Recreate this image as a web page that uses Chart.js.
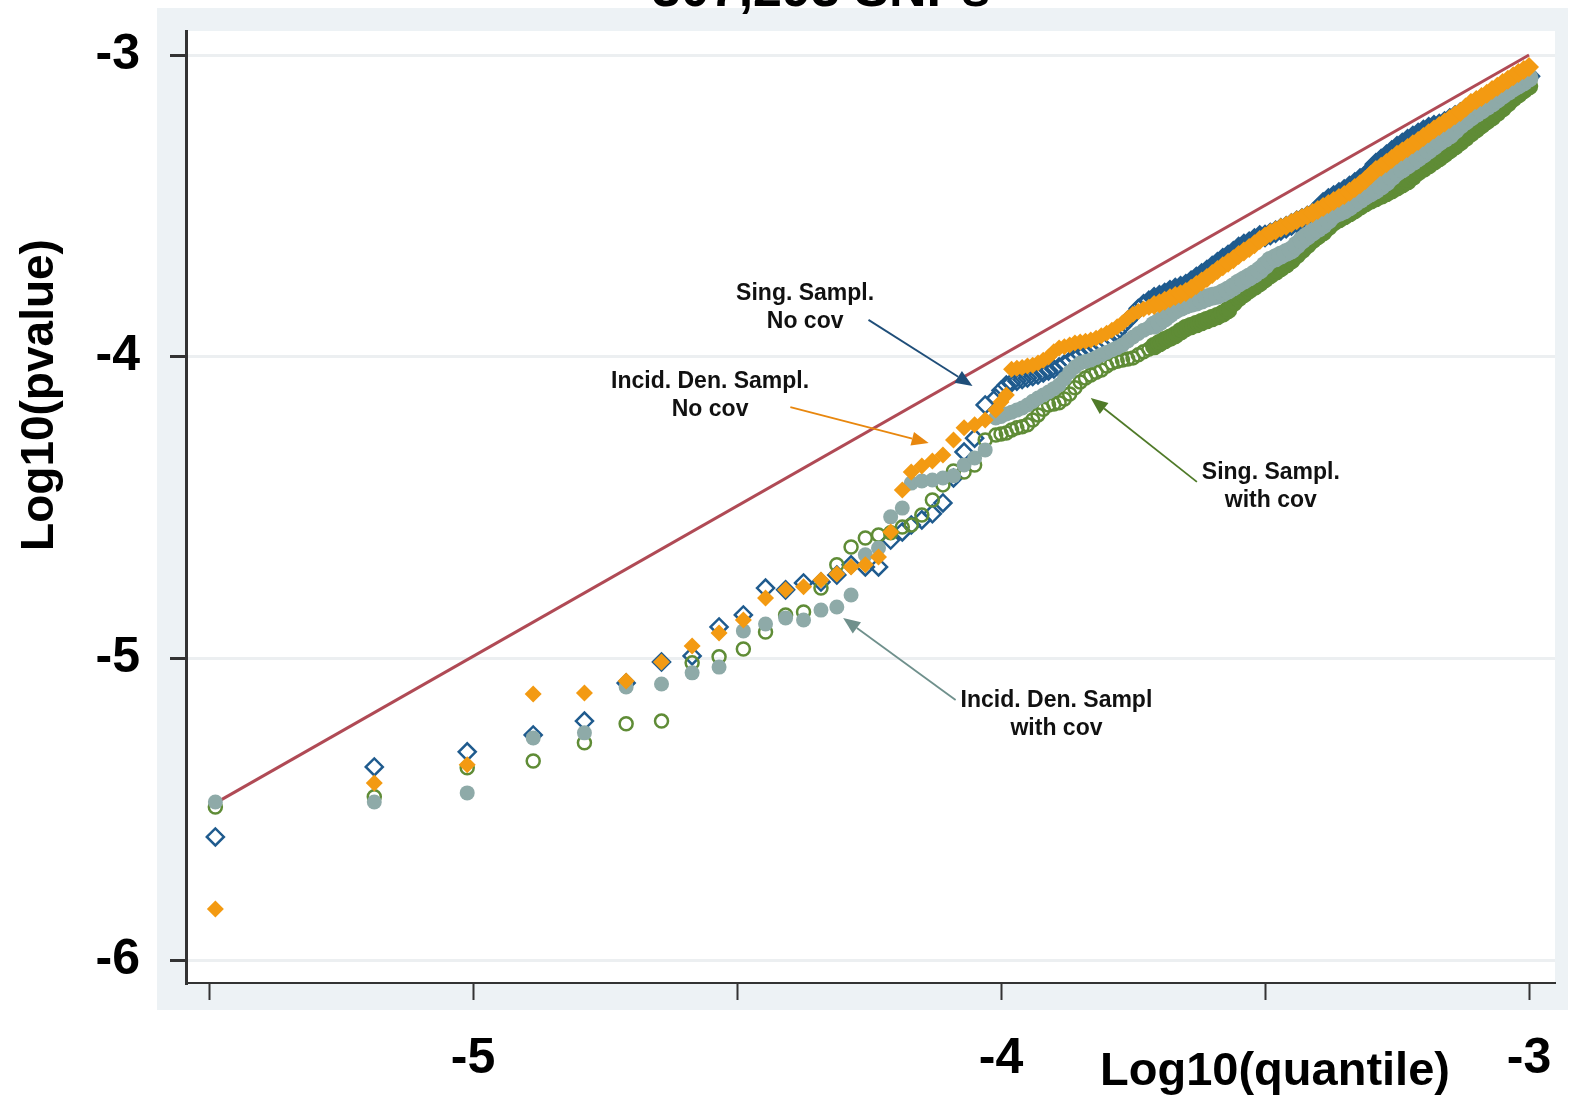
<!DOCTYPE html>
<html>
<head>
<meta charset="utf-8">
<script src="https://cdn.jsdelivr.net/npm/chart.js@4.4.1/dist/chart.umd.min.js"></script>
<style>
  html, body { margin: 0; padding: 0; background: #ffffff; }
  #wrap { width: 1571px; height: 1099px; }
</style>
</head>
<body>
<div id="wrap"><canvas id="qq" width="1571" height="1099"></canvas></div>
<script>
// Log10 des quantiles attendus (axe x), partagé par les 4 séries
const logQuantile = [
  -5.488, -5.187, -5.011, -4.886, -4.789, -4.710, -4.643, -4.585, -4.534, -4.488,
  -4.446, -4.408, -4.374, -4.341, -4.311, -4.284, -4.257, -4.232, -4.209, -4.187,
  -4.17, -4.15, -4.13, -4.11, -4.09, -4.07, -4.05, -4.03, -4.01,
  -4.00, -3.99, -3.98, -3.97, -3.96, -3.95, -3.94, -3.93, -3.92, -3.91,
  -3.90, -3.89, -3.88, -3.87, -3.86, -3.85, -3.84, -3.83, -3.82, -3.81,
  -3.80, -3.79, -3.78, -3.77, -3.76, -3.75, -3.74, -3.73, -3.72, -3.71,
  -3.70, -3.69, -3.68, -3.67, -3.66, -3.65, -3.64, -3.63, -3.62, -3.61,
  -3.60, -3.59, -3.58, -3.57, -3.56, -3.55, -3.54, -3.53, -3.52, -3.51,
  -3.50, -3.49, -3.48, -3.47, -3.46, -3.45, -3.44, -3.43, -3.42, -3.41,
  -3.40, -3.39, -3.38, -3.37, -3.36, -3.35, -3.34, -3.33, -3.32, -3.31,
  -3.30, -3.29, -3.28, -3.27, -3.26, -3.25, -3.24, -3.23, -3.22, -3.21,
  -3.20, -3.19, -3.18, -3.17, -3.16, -3.15, -3.14, -3.13, -3.12, -3.11,
  -3.10, -3.09, -3.08, -3.07, -3.06, -3.05, -3.04, -3.03, -3.02, -3.01,
  -3.00
];

// Sing. Sampl. No cov (losanges creux bleus)
const singNoCov = [
  -5.592, -5.360, -5.310, -5.254, -5.208, -5.082, -5.012, -4.992, -4.896, -4.856,
  -4.767, -4.773, -4.750, -4.747, -4.724, -4.690, -4.697, -4.697, -4.608, -4.581,
  -4.558, -4.541, -4.521, -4.485, -4.402, -4.316, -4.270, -4.160, -4.137,
  -4.112, -4.094, -4.086, -4.081, -4.076, -4.071, -4.066, -4.061, -4.054, -4.047,
  -4.041, -4.034, -4.024, -4.014, -4.004, -3.994, -3.986, -3.978, -3.970, -3.961,
  -3.950, -3.938, -3.918, -3.898, -3.880, -3.862, -3.840, -3.825, -3.813, -3.806,
  -3.800, -3.792, -3.783, -3.776, -3.770, -3.763, -3.752, -3.739, -3.728, -3.716,
  -3.703, -3.690, -3.677, -3.666, -3.654, -3.640, -3.630, -3.622, -3.612, -3.602,
  -3.600, -3.593, -3.586, -3.578, -3.571, -3.562, -3.553, -3.545, -3.537, -3.528,
  -3.512, -3.492, -3.479, -3.469, -3.459, -3.449, -3.438, -3.426, -3.413, -3.401,
  -3.385, -3.362, -3.348, -3.334, -3.320, -3.306, -3.295, -3.283, -3.272, -3.262,
  -3.252, -3.243, -3.236, -3.232, -3.224, -3.214, -3.204, -3.194, -3.181, -3.167,
  -3.158, -3.149, -3.139, -3.128, -3.118, -3.107, -3.097, -3.088, -3.080, -3.074,
  -3.070
];

// Incid. Den. Sampl. No cov (losanges pleins orange)
const incidNoCov = [
  -5.831, -5.413, -5.353, -5.118, -5.115, -5.075, -5.012, -4.959, -4.916, -4.873,
  -4.800, -4.773, -4.763, -4.740, -4.720, -4.697, -4.690, -4.664, -4.581, -4.442,
  -4.382, -4.362, -4.346, -4.326, -4.276, -4.236, -4.226, -4.210, -4.177,
  -4.150, -4.127, -4.042, -4.038, -4.036, -4.031, -4.028, -4.021, -4.012, -4.001,
  -3.984, -3.971, -3.967, -3.961, -3.955, -3.951, -3.949, -3.945, -3.939, -3.931,
  -3.922, -3.912, -3.901, -3.888, -3.873, -3.859, -3.850, -3.842, -3.836, -3.829,
  -3.823, -3.815, -3.806, -3.799, -3.793, -3.786, -3.775, -3.762, -3.751, -3.739,
  -3.726, -3.713, -3.700, -3.689, -3.677, -3.663, -3.651, -3.640, -3.627, -3.613,
  -3.602, -3.590, -3.582, -3.573, -3.566, -3.557, -3.548, -3.540, -3.532, -3.524,
  -3.514, -3.504, -3.494, -3.484, -3.474, -3.464, -3.453, -3.441, -3.428, -3.414,
  -3.398, -3.381, -3.370, -3.358, -3.345, -3.331, -3.320, -3.308, -3.296, -3.285,
  -3.272, -3.259, -3.247, -3.235, -3.224, -3.212, -3.200, -3.189, -3.174, -3.159,
  -3.149, -3.139, -3.128, -3.116, -3.105, -3.093, -3.082, -3.070, -3.060, -3.050,
  -3.040
];

// Sing. Sampl. with cov (cercles creux verts)
const singCov = [
  -5.493, -5.459, -5.363, -5.340, -5.280, -5.217, -5.208, -5.015, -4.995, -4.969,
  -4.913, -4.856, -4.846, -4.767, -4.690, -4.631, -4.601, -4.591, -4.584, -4.565,
  -4.558, -4.525, -4.475, -4.425, -4.379, -4.382, -4.359, -4.276, -4.260,
  -4.256, -4.253, -4.243, -4.236, -4.232, -4.226, -4.210, -4.193, -4.174, -4.160,
  -4.157, -4.153, -4.140, -4.124, -4.103, -4.084, -4.071, -4.061, -4.052, -4.044,
  -4.031, -4.021, -4.015, -4.011, -4.008, -4.004, -3.994, -3.984, -3.975, -3.965,
  -3.955, -3.945, -3.937, -3.928, -3.916, -3.905, -3.898, -3.892, -3.885, -3.878,
  -3.872, -3.865, -3.857, -3.845, -3.822, -3.805, -3.792, -3.779, -3.768, -3.756,
  -3.742, -3.729, -3.718, -3.706, -3.694, -3.680, -3.663, -3.646, -3.630, -3.613,
  -3.600, -3.587, -3.570, -3.554, -3.544, -3.534, -3.524, -3.514, -3.502, -3.491,
  -3.482, -3.474, -3.466, -3.457, -3.448, -3.438, -3.428, -3.418, -3.403, -3.388,
  -3.377, -3.365, -3.353, -3.341, -3.328, -3.315, -3.302, -3.288, -3.274, -3.259,
  -3.246, -3.232, -3.219, -3.206, -3.191, -3.176, -3.160, -3.143, -3.130, -3.116,
  -3.103
];

// Incid. Den. Sampl with cov (cercles pleins gris-vert)
const incidCov = [
  -5.476, -5.476, -5.446, -5.264, -5.247, -5.095, -5.085, -5.048, -5.029, -4.909,
  -4.886, -4.866, -4.873, -4.840, -4.830, -4.790, -4.657, -4.634, -4.531, -4.502,
  -4.419, -4.412, -4.409, -4.402, -4.395, -4.359, -4.336, -4.309, -4.203,
  -4.198, -4.190, -4.184, -4.177, -4.170, -4.160, -4.148, -4.137, -4.127, -4.117,
  -4.106, -4.094, -4.073, -4.051, -4.034, -4.021, -4.016, -4.011, -4.003, -3.994,
  -3.986, -3.978, -3.970, -3.961, -3.948, -3.935, -3.923, -3.912, -3.904, -3.895,
  -3.884, -3.872, -3.858, -3.845, -3.837, -3.829, -3.824, -3.819, -3.812, -3.805,
  -3.800, -3.796, -3.788, -3.779, -3.768, -3.756, -3.746, -3.736, -3.725, -3.713,
  -3.697, -3.680, -3.672, -3.663, -3.655, -3.646, -3.630, -3.613, -3.600, -3.587,
  -3.575, -3.563, -3.547, -3.530, -3.522, -3.514, -3.503, -3.491, -3.479, -3.467,
  -3.457, -3.447, -3.434, -3.421, -3.404, -3.388, -3.377, -3.365, -3.353, -3.341,
  -3.328, -3.315, -3.302, -3.288, -3.277, -3.265, -3.249, -3.232, -3.219, -3.206,
  -3.194, -3.182, -3.171, -3.159, -3.146, -3.133, -3.121, -3.109, -3.099, -3.089,
  -3.076
];

// Droite de référence (attendu = observé)
const refX = [-5.488, -3.0];
const refY = [-5.48, -3.0];

// Graduations
const xTickValues = [-5.5, -5, -4.5, -4, -3.5, -3];
const xTickLabels = ['', '-5', '', '-4', '', '-3'];
const yTickValues = [-6, -5, -4, -3];
const yTickLabels = ['-6', '-5', '-4', '-3'];

const chartTitle = '307,293 SNPs';
const xTitle = 'Log10(quantile)';
const yTitle = 'Log10(pvalue)';

// Annotations : texte + flèche (coordonnées en unités des axes)
const notes = [
  { lines: ['Sing. Sampl.', 'No cov'], at: [-4.371, -3.792], from: [-4.251, -3.878], to: [-4.054, -4.097], color: '#1f4e79' },
  { lines: ['Incid. Den. Sampl.', 'No cov'], at: [-4.551, -4.084], from: [-4.399, -4.167], to: [-4.137, -4.286], color: '#e8870e' },
  { lines: ['Sing. Sampl.', 'with cov'], at: [-3.489, -4.385], from: [-3.629, -4.415], to: [-3.830, -4.137], color: '#4f7a28' },
  { lines: ['Incid. Den. Sampl', 'with cov'], at: [-3.895, -5.141], from: [-4.086, -5.138], to: [-4.299, -4.866], color: '#6f908c' }
];

const FONT = "'Liberation Sans', Arial, Helvetica, sans-serif";
const DENSE_FROM = -3.72; // au-delà, les marqueurs se chevauchent en bande pleine

const toPoints = ys => logQuantile.map((x, i) => ({ x: x, y: ys[i] }));
const isDense = c => c.raw !== undefined && c.raw.x > DENSE_FROM;

function arrow(ctx, x0, y0, x1, y1, color) {
    const ang = Math.atan2(y1 - y0, x1 - x0);
    const len = 17, half = 7;
    const bx = x1 - Math.cos(ang) * len;
    const by = y1 - Math.sin(ang) * len;
    ctx.strokeStyle = color;
    ctx.fillStyle = color;
    ctx.lineWidth = 1.8;
    ctx.beginPath();
    ctx.moveTo(x0, y0);
    ctx.lineTo(bx, by);
    ctx.stroke();
    ctx.beginPath();
    ctx.moveTo(x1, y1);
    ctx.lineTo(bx + Math.sin(ang) * half, by - Math.cos(ang) * half);
    ctx.lineTo(bx - Math.sin(ang) * half, by + Math.cos(ang) * half);
    ctx.closePath();
    ctx.fill();
}

// Fond gris-bleu façon Stata + textes libres
const stataFrame = {
    id: 'stataFrame',
    beforeDraw(chart) {
        const { ctx, chartArea: a } = chart;
        ctx.save();
        ctx.fillStyle = '#ffffff';
        ctx.fillRect(0, 0, chart.width, chart.height);
        ctx.fillStyle = '#edf2f5';
        ctx.fillRect(a.left - 29, a.top - 23, (a.right + 13) - (a.left - 29), (a.bottom + 27) - (a.top - 23));
        ctx.fillStyle = '#ffffff';
        ctx.fillRect(a.left, a.top, a.right - a.left, a.bottom - a.top);
        ctx.restore();
    },
    afterDraw(chart) {
        const { ctx, scales: { x, y } } = chart;
        ctx.save();

        // titre (coupé en haut de l'image)
        ctx.fillStyle = '#000000';
        ctx.font = 'bold 52px ' + FONT;
        ctx.textAlign = 'center';
        ctx.textBaseline = 'alphabetic';
        ctx.fillText(chartTitle, 821, 6);

        // titre de l'axe x
        ctx.font = 'bold 47px ' + FONT;
        ctx.fillText(xTitle, 1275, 1085);

        // titre de l'axe y
        ctx.save();
        ctx.translate(53, 395);
        ctx.rotate(-Math.PI / 2);
        ctx.font = 'bold 46px ' + FONT;
        ctx.fillText(yTitle, 0, 0);
        ctx.restore();

        // annotations
        notes.forEach(n => {
            arrow(ctx, x.getPixelForValue(n.from[0]), y.getPixelForValue(n.from[1]),
                x.getPixelForValue(n.to[0]), y.getPixelForValue(n.to[1]), n.color);
            ctx.fillStyle = '#111111';
            ctx.font = 'bold 23px ' + FONT;
            ctx.textAlign = 'center';
            ctx.textBaseline = 'middle';
            const cx = x.getPixelForValue(n.at[0]);
            const cy = y.getPixelForValue(n.at[1]);
            n.lines.forEach((t, k) => ctx.fillText(t, cx, cy + k * 28));
        });
        ctx.restore();
    }
};

const ctx = document.getElementById('qq').getContext('2d');
new Chart(ctx, {
    type: 'scatter',
    data: {
        datasets: [
            {
                label: 'Incid. Den. Sampl. No cov',
                data: toPoints(incidNoCov),
                pointStyle: 'rectRot',
                pointRadius: c => isDense(c) ? 10 : 8.5,
                backgroundColor: '#f39a12',
                borderColor: '#f39a12',
                borderWidth: 0
            },
            {
                label: 'Incid. Den. Sampl with cov',
                data: toPoints(incidCov),
                pointStyle: 'circle',
                pointRadius: c => isDense(c) ? 9.5 : 7.5,
                backgroundColor: '#8eaaa8',
                borderColor: '#8eaaa8',
                borderWidth: 0
            },
            {
                label: 'Sing. Sampl. with cov',
                data: toPoints(singCov),
                pointStyle: 'circle',
                pointRadius: c => isDense(c) ? 8 : 6.5,
                backgroundColor: c => isDense(c) ? '#5f8c36' : 'rgba(0,0,0,0)',
                borderColor: '#5f8c36',
                borderWidth: 2.5
            },
            {
                label: 'Sing. Sampl. No cov',
                data: toPoints(singNoCov),
                pointStyle: 'rectRot',
                pointRadius: c => isDense(c) ? 10 : 8.5,
                backgroundColor: c => isDense(c) ? '#1f5b8e' : 'rgba(0,0,0,0)',
                borderColor: '#1f5b8e',
                borderWidth: 2.5
            },
            {
                type: 'line',
                label: 'ref',
                data: refX.map((v, i) => ({ x: v, y: refY[i] })),
                borderColor: '#b04a55',
                borderWidth: 3,
                pointRadius: 0,
                fill: false
            }
        ]
    },
    options: {
        responsive: false,
        animation: false,
        devicePixelRatio: 1,
        layout: { padding: { left: 0, right: 16, top: 31, bottom: 0 } },
        plugins: {
            legend: { display: false },
            tooltip: { enabled: false }
        },
        scales: {
            x: {
                type: 'linear',
                min: -5.5436,
                max: -2.9508,
                afterFit: s => { s.height = 116; s.paddingLeft = 0; s.paddingRight = 0; },
                afterBuildTicks: s => { s.ticks = xTickValues.map(v => ({ value: v })); },
                grid: {
                    drawOnChartArea: false,
                    drawTicks: true,
                    tickLength: 17,
                    tickColor: '#333333',
                    tickWidth: 2
                },
                border: { display: true, color: '#333333', width: 2 },
                ticks: {
                    autoSkip: false,
                    maxRotation: 0,
                    padding: 29,
                    color: '#000000',
                    font: { family: FONT, size: 50, weight: 'bold' },
                    callback: (v, i) => xTickLabels[i]
                }
            },
            y: {
                type: 'linear',
                min: -6.0762,
                max: -2.9204,
                afterFit: s => { s.width = 186; s.paddingTop = 0; s.paddingBottom = 0; },
                afterBuildTicks: s => { s.ticks = yTickValues.map(v => ({ value: v })); },
                grid: {
                    color: '#eceff1',
                    lineWidth: 3,
                    drawTicks: true,
                    tickLength: 16,
                    tickColor: '#333333',
                    tickWidth: 3
                },
                border: { display: true, color: '#333333', width: 3 },
                ticks: {
                    padding: 30,
                    color: '#000000',
                    font: { family: FONT, size: 50, weight: 'bold' },
                    callback: (v, i) => yTickLabels[i]
                }
            }
        }
    },
    plugins: [stataFrame]
});
</script>
</body>
</html>
